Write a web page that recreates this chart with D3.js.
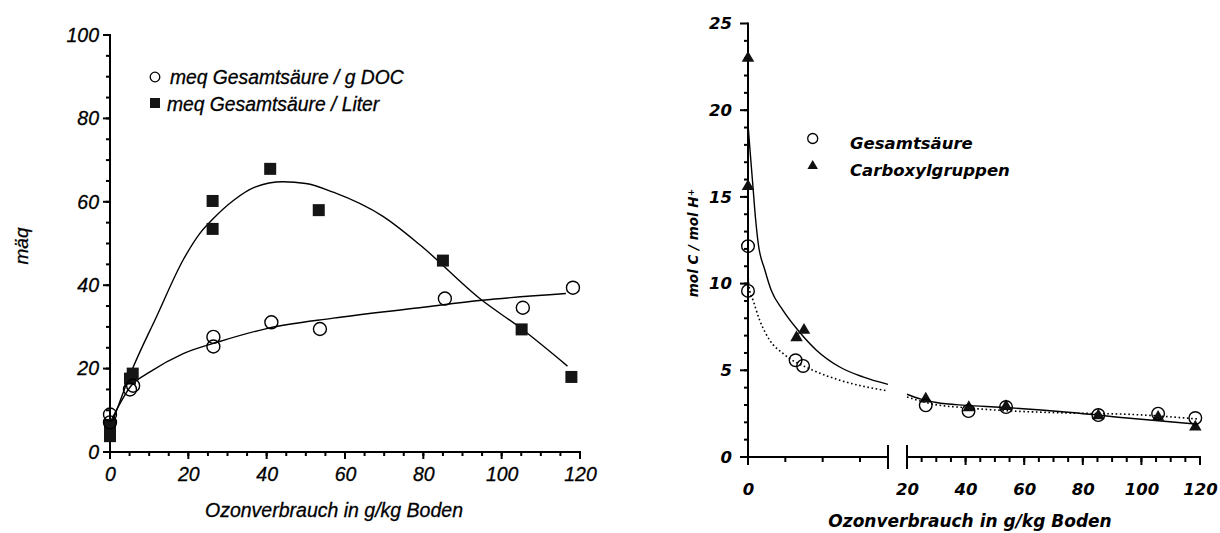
<!DOCTYPE html>
<html>
<head>
<meta charset="utf-8">
<script src="https://cdn.jsdelivr.net/npm/d3@7"></script>
<style>
  body { margin: 0; background: #fff; }
  .lp text { font-family: "Liberation Sans", Arial, sans-serif; font-style: italic; fill: #000; stroke: #000; stroke-width: 0.3px; }
  .rp text { font-family: "DejaVu Sans", Verdana, sans-serif; font-style: oblique; font-weight: bold; fill: #000; }
</style>
</head>
<body>
<svg id="chart" width="1220" height="533"></svg>
<script>
// ---------- left panel: acid content vs. ozone consumption ----------
const leftXTicks = [0, 20, 40, 60, 80, 100, 120];
const leftXMinor = d3.range(5, 120, 5);
const leftYTicks = [0, 20, 40, 60, 80, 100];
const leftYMinor = d3.range(5, 100, 5);

// meq Gesamtsäure / g DOC
const docX = [0, 0, 5.1, 5.9, 26.4, 26.4, 41.2, 53.6, 85.5, 105.4, 118.2];
const docY = [9.0, 7.1, 15.0, 15.9, 27.6, 25.3, 31.1, 29.5, 36.8, 34.6, 39.4];
// meq Gesamtsäure / Liter
const literX = [0, 0, 0, 5.1, 5.8, 26.2, 26.2, 40.9, 53.3, 85.0, 105.1, 117.8];
const literY = [6.5, 5.0, 3.8, 17.6, 18.8, 60.2, 53.5, 67.9, 58.0, 45.9, 29.4, 18.0];

// fitted trend lines
const docFitX = [0, 5.5, 10.2, 18.7, 28, 40, 57, 79, 95, 116.4];
const docFitY = [7.0, 16.0, 19.2, 23.6, 26.5, 29.6, 32.1, 34.6, 36.4, 38.0];
const literFitX = [0, 5.5, 11.9, 18.7, 23, 26.2, 31.5, 37, 44.2, 50, 57, 69.7, 79.1, 94.4, 105, 116.8];
const literFitY = [5.5, 19.4, 32.5, 46.1, 52.5, 55.8, 60.3, 63.5, 64.8, 64.4, 62.3, 56.5, 49.7, 36.8, 29.6, 20.6];

const leftLegend = ["meq Gesamtsäure / g DOC", "meq Gesamtsäure / Liter"];

// ---------- right panel: mol C per mol H+ (broken x axis) ----------
const rightXTicksA = [0];
const rightXMinorA = [4, 8, 12];
const rightXTicksB = [20, 40, 60, 80, 100, 120];
const rightXMinorB = d3.range(25, 120, 5);
const rightYTicks = [0, 5, 10, 15, 20, 25];
const rightYMinor = d3.range(1, 25, 1);

// Gesamtsäure
const gesX = [0, 0, 5.1, 5.9, 26.4, 41.0, 53.8, 85.3, 105.7, 118.4];
const gesY = [12.16, 9.58, 5.58, 5.25, 2.98, 2.65, 2.88, 2.42, 2.50, 2.25];
// Carboxylgruppen
const carbX = [0, 0, 5.2, 6.0, 26.4, 41.1, 53.8, 85.3, 105.7, 118.4];
const carbY = [23.0, 15.6, 6.89, 7.31, 3.35, 2.85, 2.92, 2.38, 2.30, 1.73];

// fitted curves, drawn separately on both sides of the axis break
const carbFitAX = [0, 0.2, 0.5, 0.8, 1.1, 1.8, 2.5, 3.75, 5.36, 7.33, 9.83, 12.3, 15];
const carbFitAY = [19.2, 17.8, 15.8, 13.8, 12.3, 10.8, 9.6, 8.46, 7.31, 6.16, 5.19, 4.62, 4.19];
const carbFitBX = [20, 25, 30, 40, 52, 75, 97, 119.4];
const carbFitBY = [3.62, 3.32, 3.14, 2.98, 2.87, 2.58, 2.22, 1.89];
const gesFitAX = [0.02, 0.18, 0.54, 1.25, 2.33, 3.75, 6.97, 9.83, 15];
const gesFitAY = [10.3, 9.6, 9.04, 7.89, 6.73, 5.97, 5.0, 4.43, 3.81];
const gesFitBX = [20, 29.1, 40, 51.8, 74.5, 97.2, 119.4];
const gesFitBY = [3.46, 3.04, 2.84, 2.69, 2.54, 2.45, 2.19];

const rightLegend = ["Gesamtsäure", "Carboxylgruppen"];

const svg = d3.select("#chart");
const zip = (xs, ys) => xs.map((x, i) => [x, ys[i]]);
const LW = 2; // axis line weight

// Tick labels come from d3.axis; the axis line and the tick marks are drawn
// as filled bars placed with the same scale.
function drawAxis(parent, orient, scale, pos, major, minor, majorLen, minorLen, padding, fontSize) {
  const axis = (orient === "bottom" ? d3.axisBottom(scale) : d3.axisLeft(scale))
    .tickValues(major).tickSize(majorLen).tickPadding(padding);
  const g = parent.append("g")
    .attr("transform", orient === "bottom" ? `translate(0,${pos})` : `translate(${pos},0)`)
    .call(axis);
  g.selectAll("path.domain, .tick line").remove();
  g.selectAll("text").attr("font-family", null).style("font-size", fontSize);

  const [r0, r1] = scale.range();
  const lo = Math.min(r0, r1), hi = Math.max(r0, r1);
  const bars = parent.append("g").attr("fill", "#000");
  const ticks = major.map(v => [v, majorLen]).concat(minor.map(v => [v, minorLen]));
  if (orient === "bottom") {
    bars.append("rect").attr("x", lo - LW / 2).attr("y", pos - LW / 2)
      .attr("width", hi - lo + LW).attr("height", LW);
    bars.selectAll("rect.tk").data(ticks).join("rect").attr("class", "tk")
      .attr("x", d => scale(d[0]) - LW / 2).attr("y", pos)
      .attr("width", LW).attr("height", d => d[1]);
  } else {
    bars.append("rect").attr("x", pos - LW / 2).attr("y", lo - LW / 2)
      .attr("width", LW).attr("height", hi - lo + LW);
    bars.selectAll("rect.tk").data(ticks).join("rect").attr("class", "tk")
      .attr("x", d => pos - d[1]).attr("y", d => scale(d[0]) - LW / 2)
      .attr("width", d => d[1]).attr("height", LW);
  }
  return g;
}

// ===== left panel =====
const L = svg.append("g").attr("class", "lp");
const lx = d3.scaleLinear().domain([0, 120]).range([110, 580]);
const ly = d3.scaleLinear().domain([0, 100]).range([452, 35]);

drawAxis(L, "bottom", lx, ly(0), leftXTicks, leftXMinor, 7, 4, 8, "19.5px");
drawAxis(L, "left", ly, lx(0), leftYTicks, leftYMinor, 7, 4, 4, "19.5px");

L.append("text").attr("x", 334).attr("y", 517).attr("text-anchor", "middle")
  .style("font-size", "19.5px").text("Ozonverbrauch in g/kg Boden");
L.append("text").attr("transform", "translate(28,246) rotate(-90)").attr("text-anchor", "middle")
  .style("font-size", "19px").text("mäq");

const line = (sx, sy) => d3.line().x(d => sx(d[0])).y(d => sy(d[1])).curve(d3.curveMonotoneX);
L.append("path").datum(zip(docFitX, docFitY)).attr("d", line(lx, ly))
  .attr("fill", "none").attr("stroke", "#000").attr("stroke-width", 1.4);
L.append("path").datum(zip(literFitX, literFitY)).attr("d", line(lx, ly))
  .attr("fill", "none").attr("stroke", "#000").attr("stroke-width", 1.4);

L.selectAll("rect.liter").data(zip(literX, literY)).join("rect").attr("class", "liter")
  .attr("x", d => lx(d[0]) - 6).attr("y", d => ly(d[1]) - 6)
  .attr("width", 12).attr("height", 12).attr("fill", "#151515");
L.selectAll("circle.doc").data(zip(docX, docY)).join("circle").attr("class", "doc")
  .attr("cx", d => lx(d[0])).attr("cy", d => ly(d[1])).attr("r", 6.5)
  .attr("fill", "none").attr("stroke", "#000").attr("stroke-width", 1.4);

// legend
L.append("circle").attr("cx", 155).attr("cy", 77).attr("r", 4.8)
  .attr("fill", "#fff").attr("stroke", "#000").attr("stroke-width", 1.3);
L.append("text").attr("x", 170).attr("y", 84).style("font-size", "19.3px").text(leftLegend[0]);
L.append("rect").attr("x", 150).attr("y", 98).attr("width", 10).attr("height", 10).attr("fill", "#151515");
L.append("text").attr("x", 167).attr("y", 111).style("font-size", "19.3px").text(leftLegend[1]);

// ===== right panel =====
const R = svg.append("g").attr("class", "rp");
const rxA = d3.scaleLinear().domain([0, 15]).range([748, 888]);
const rxB = d3.scaleLinear().domain([20, 120]).range([907, 1200]);
const ry = d3.scaleLinear().domain([0, 25]).range([457, 23.5]);
const y0 = ry(0);

drawAxis(R, "bottom", rxA, y0, rightXTicksA, rightXMinorA, 8, 5, 18, "16.5px");
drawAxis(R, "bottom", rxB, y0, rightXTicksB, rightXMinorB, 8, 5, 18, "16.5px");
drawAxis(R, "left", ry, rxA(0), rightYTicks, rightYMinor, 8, 4, 8, "16.5px");

// axis break marks
R.selectAll("rect.brk").data([rxA(15), rxB(20)]).join("rect").attr("class", "brk")
  .attr("x", x => x - LW / 2).attr("y", y0 - 12).attr("width", LW).attr("height", 24)
  .attr("fill", "#000");

R.append("text").attr("x", 970).attr("y", 527).attr("text-anchor", "middle")
  .style("font-size", "17px").text("Ozonverbrauch in g/kg Boden");
const yt = R.append("text").attr("transform", "translate(698,243) rotate(-90)")
  .attr("text-anchor", "middle").style("font-size", "13.5px");
yt.append("tspan").text("mol C / mol H");
yt.append("tspan").attr("dy", "-0.45em").style("font-size", "9px").text("+");

const fits = [
  [carbFitAX, carbFitAY, rxA, null], [carbFitBX, carbFitBY, rxB, null],
  [gesFitAX, gesFitAY, rxA, "1.6,2.6"], [gesFitBX, gesFitBY, rxB, "1.6,2.6"]
];
fits.forEach(([xs, ys, sx, dash]) => {
  R.append("path").datum(zip(xs, ys)).attr("d", line(sx, ry))
    .attr("fill", "none").attr("stroke", "#000")
    .attr("stroke-width", dash ? 1.6 : 1.4)
    .attr("stroke-dasharray", dash);
});

const rx = v => (v <= 15 ? rxA(v) : rxB(v));
const tri = d3.symbol().type(d3.symbolTriangle).size(68);
R.selectAll("path.carb").data(zip(carbX, carbY)).join("path").attr("class", "carb")
  .attr("d", tri).attr("transform", d => `translate(${rx(d[0])},${ry(d[1])})`)
  .attr("fill", "#111");
R.selectAll("circle.ges").data(zip(gesX, gesY)).join("circle").attr("class", "ges")
  .attr("cx", d => rx(d[0])).attr("cy", d => ry(d[1])).attr("r", 6.3)
  .attr("fill", "none").attr("stroke", "#000").attr("stroke-width", 1.4);

// legend
R.append("circle").attr("cx", 812.7).attr("cy", 138.5).attr("r", 5)
  .attr("fill", "#fff").attr("stroke", "#000").attr("stroke-width", 1.3);
R.append("text").attr("x", 850).attr("y", 149).style("font-size", "16.5px").text(rightLegend[0]);
R.append("path").attr("d", d3.symbol().type(d3.symbolTriangle).size(48))
  .attr("transform", "translate(812.7,166)").attr("fill", "#111");
R.append("text").attr("x", 850).attr("y", 176).style("font-size", "16.5px").text(rightLegend[1]);
</script>
</body>
</html>
